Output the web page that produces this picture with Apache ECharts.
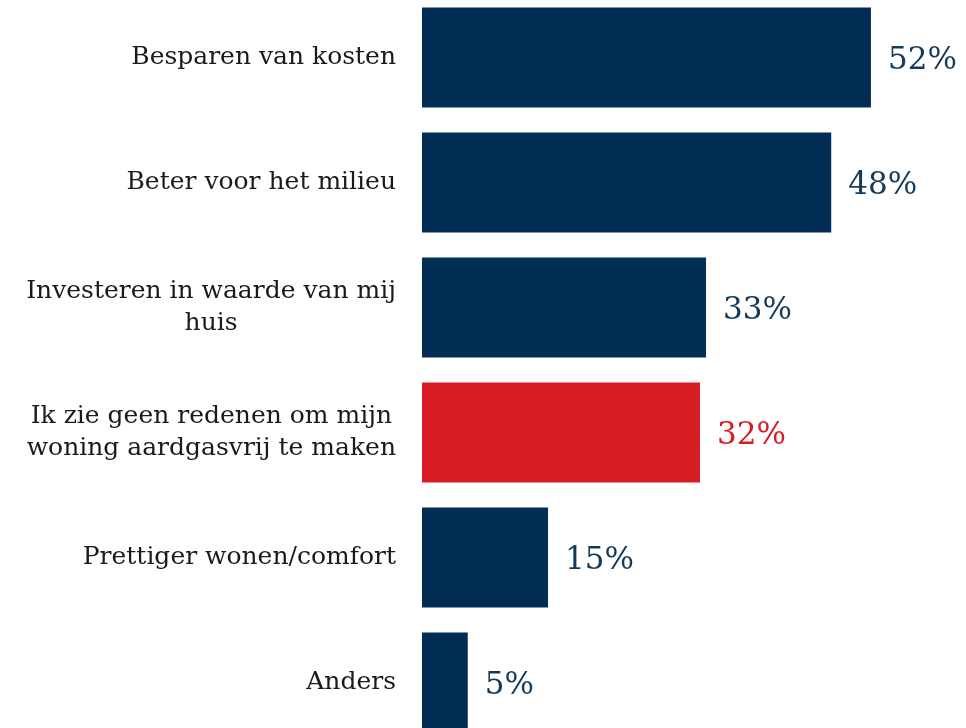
<!DOCTYPE html>
<html>
<head>
<meta charset="utf-8">
<script src="https://cdn.jsdelivr.net/npm/echarts@6/dist/echarts.min.js"></script>
<style>
html,body{margin:0;padding:0;background:#fff;overflow:hidden;width:966px;height:728px;}
#chart{position:absolute;left:0;top:-5px;width:966px;height:750px;}
</style>
</head>
<body>
<div id="chart"></div>
<script>
var categories = [
  "Besparen van kosten",
  "Beter voor het milieu",
  "Investeren in waarde van mij\nhuis",
  "Ik zie geen redenen om mijn\nwoning aardgasvrij te maken",
  "Prettiger wonen/comfort",
  "Anders"
];
var values = [52.0, 47.4, 32.9, 32.2, 14.6, 5.3];
var valueLabels = ["52%", "48%", "33%", "32%", "15%", "5%"];
var highlightIndex = 3;

var navy = "#022d55";
var red = "#d71c24";
var fontFamily = "'DejaVu Serif', 'Liberation Serif', serif";

var data = values.map(function (v, i) {
  var isRed = i === highlightIndex;
  return {
    value: v,
    itemStyle: { color: isRed ? red : navy },
    label: { color: isRed ? red : "#133a5a" }
  };
});

var chart = echarts.init(document.getElementById('chart'));
chart.setOption({
  animation: false,
  grid: { left: 422, right: 26, top: 0, bottom: 0, containLabel: false },
  xAxis: {
    type: 'value', min: 0, max: 60, show: false
  },
  yAxis: {
    type: 'category',
    inverse: true,
    data: categories,
    axisLine: { show: false },
    axisTick: { show: false },
    axisLabel: {
      margin: 26,
      color: '#1a1a1a',
      fontFamily: fontFamily,
      fontSize: 25,
      lineHeight: 32,
      formatter: function (v) { return '{c|' + v + '}'; },
      rich: {
        c: { align: 'center', fontFamily: fontFamily, fontSize: 25, lineHeight: 32, color: '#1a1a1a' }
      }
    }
  },
  series: [{
    type: 'bar',
    data: data,
    barCategoryGap: '20%',
    label: {
      show: true,
      position: 'right',
      distance: 17,
      offset: [0, 3],
      fontFamily: fontFamily,
      fontSize: 31,
      formatter: function (p) { return valueLabels[p.dataIndex]; }
    }
  }]
});
</script>
</body>
</html>
